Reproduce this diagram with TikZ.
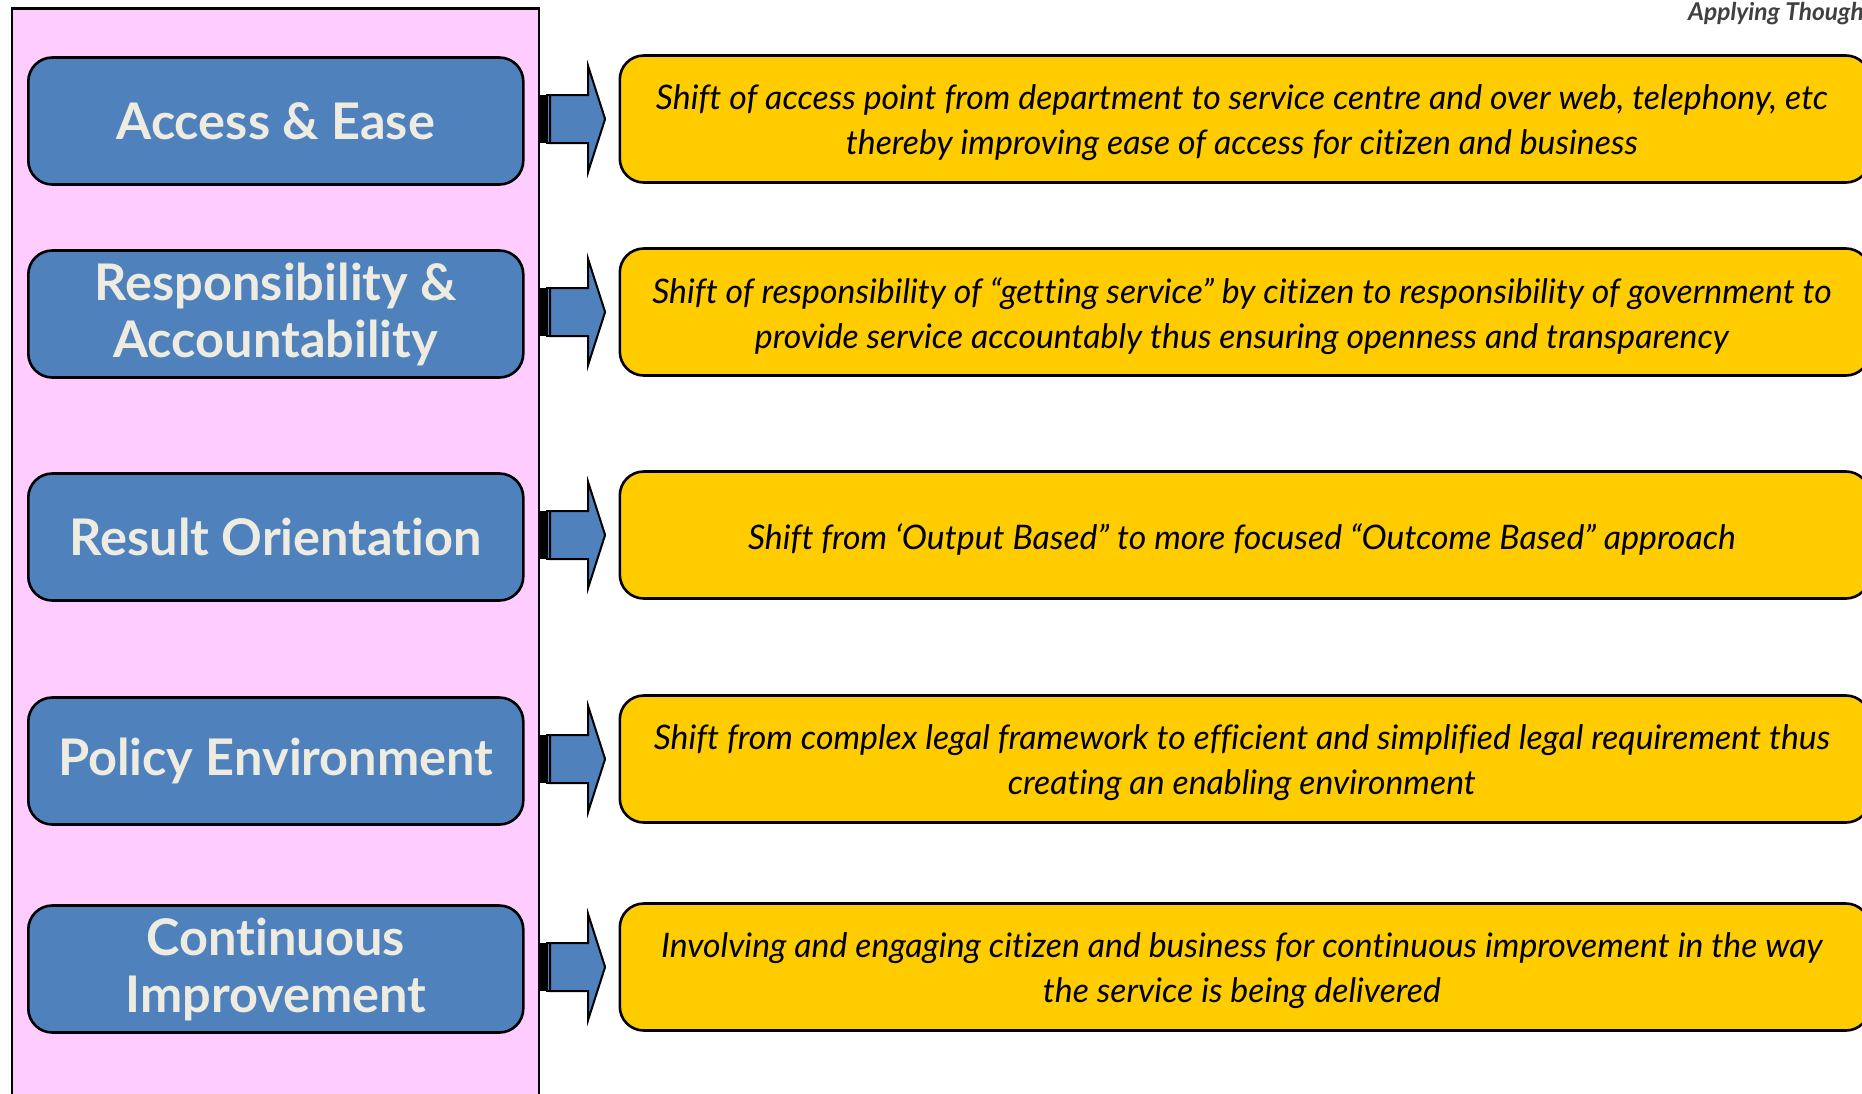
\documentclass[tikz,border=0pt]{standalone}
\usepackage{fontspec}
\setmainfont{Lato}[Ligatures=NoCommon]
\usetikzlibrary{calc}
\definecolor{pinkbg}{HTML}{FFCCFF}
\definecolor{boxblue}{HTML}{4F81BD}
\definecolor{boxyellow}{HTML}{FFCC00}
\definecolor{lighttext}{HTML}{EEECE1}
\definecolor{logogray}{HTML}{404040}
\begin{document}
\begin{tikzpicture}[x=1pt,y=-1pt,
  bluebox/.style={draw=black,line width=2.6pt,fill=boxblue,rounded corners=24pt,
    minimum width=495pt,minimum height=127pt,inner sep=0pt,text=lighttext,
    font=\fontsize{50.5}{57}\selectfont\bfseries,align=center,anchor=west},
  yellowbox/.style={draw=black,line width=2.6pt,fill=boxyellow,rounded corners=24pt,
    minimum width=1250pt,minimum height=127pt,inner sep=0pt,text=black,
    align=center,anchor=west},
  desctext/.style={inner sep=0pt,text=black,font=\fontsize{33.8}{45}\selectfont\itshape,align=center},
  arrowshape/.style={draw=black,line width=2pt,fill=boxblue,line join=miter}]
\useasboundingbox (0,0) rectangle (1862,1093);
% pink panel
\node[draw=black,line width=2.6pt,fill=pinkbg,minimum width=527pt,minimum height=1100pt,
  inner sep=0pt,anchor=north west] (panel) at (10.5,7) {};
% logo text
\node[anchor=base west,inner sep=0pt,text=logogray,font=\fontsize{24.5}{28}\selectfont\bfseries\itshape] (logo) at (1688,20) {Applying Though};
% rows
\foreach \c/\lbl/\desc [count=\i] in {
  119/{Access \& Ease}/{Shift of access point from department to service centre and over web, telephony, etc\\thereby improving ease of access for citizen and business},
  312/{Responsibility \&\\Accountability}/{Shift of responsibility of “getting service” by citizen to responsibility of government to\\provide service accountably thus ensuring openness and transparency},
  535/{Result Orientation}/{Shift from ‘Output Based” to more focused “Outcome Based” approach},
  759/{Policy Environment}/{Shift from complex legal framework to efficient and simplified legal requirement thus\\creating an enabling environment},
  967/{Continuous\\Improvement}/{Involving and engaging citizen and business for continuous improvement in the way\\the service is being delivered}}{
  \node[bluebox] (b\i) at (27,\c+2) {\lbl};
  \node[yellowbox] (y\i) at (618.5,\c) {};
  \node[desctext] (t\i) at ($(y\i.center)+(-3,4)$) {\desc};
  \coordinate (s\i) at (panel.east |- y\i.west);
  \fill[black] ($(s\i)+(0,-24)$) rectangle ($(s\i)+(6,24)$);
  \draw[arrowshape] ($(s\i)+(6.5,-24)$) rectangle ($(s\i)+(10,24)$);
  \draw[arrowshape] ($(s\i)+(10,-24)$) -- ($(s\i)+(48,-24)$) -- ($(s\i)+(48,-53)$)
     -- ($(s\i)+(65,0)$) -- ($(s\i)+(48,53)$) -- ($(s\i)+(48,24)$)
     -- ($(s\i)+(10,24)$) -- cycle;
}
\end{tikzpicture}
\end{document}
